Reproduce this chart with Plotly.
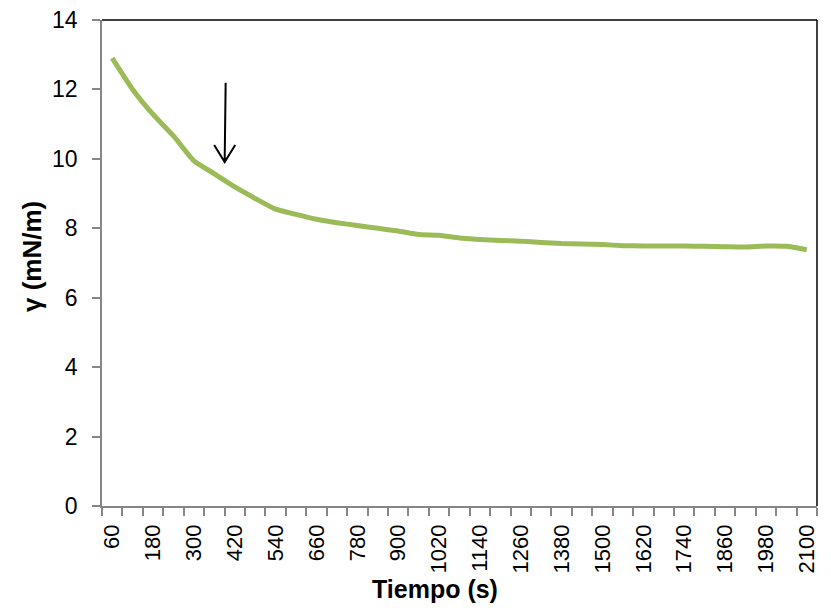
import plotly.graph_objects as go

tiempo = [60, 120, 180, 240, 300, 360, 420, 480, 540, 600, 660, 720, 780, 840, 900,
          960, 1020, 1080, 1140, 1200, 1260, 1320, 1380, 1440, 1500, 1560, 1620, 1680,
          1740, 1800, 1860, 1920, 1980, 2040, 2100]
gamma = [12.90, 12.00, 11.28, 10.66, 9.94, 9.57, 9.19, 8.86, 8.55, 8.40, 8.26, 8.16,
         8.08, 8.00, 7.92, 7.82, 7.80, 7.72, 7.68, 7.65, 7.63, 7.59, 7.56, 7.55, 7.53,
         7.50, 7.49, 7.49, 7.49, 7.48, 7.47, 7.46, 7.49, 7.48, 7.38]
tick_labels = [60, 180, 300, 420, 540, 660, 780, 900, 1020, 1140, 1260, 1380, 1500,
               1620, 1740, 1860, 1980, 2100]
y_ticks = [0, 2, 4, 6, 8, 10, 12, 14]

FONT = "Liberation Sans, Arial, sans-serif"
AXIS_GREY = "#868686"

fig = go.Figure()
fig.add_trace(go.Scatter(
    x=tiempo, y=gamma, mode="lines",
    line=dict(color="#9BBB59", width=5, shape="spline", smoothing=0.5),
    hoverinfo="x+y", showlegend=False,
))

fig.update_layout(
    width=831, height=613,
    margin=dict(l=102, r=14, t=20, b=107),
    paper_bgcolor="white", plot_bgcolor="white",
    font=dict(family=FONT, color="black"),
    xaxis=dict(
        range=[30, 2130], tickmode="array", automargin=False,
        tickvals=tick_labels, ticktext=[str(v) for v in tick_labels],
        tickangle=-90, ticks="", showgrid=False, zeroline=False,
        showline=True, linecolor=AXIS_GREY, linewidth=1.5,
        tickfont=dict(size=22, family=FONT), ticklabelstandoff=8,
        minor=dict(tick0=30, dtick=60, ticks="outside", ticklen=8,
                   tickcolor=AXIS_GREY, tickwidth=1.5, showgrid=False),
    ),
    yaxis=dict(
        range=[0, 14], tickmode="array", tickvals=y_ticks, automargin=False,
        ticks="outside", ticklen=8, tickcolor=AXIS_GREY, tickwidth=1.5,
        showgrid=False, zeroline=False,
        showline=True, linecolor=AXIS_GREY, linewidth=1.5,
        tickfont=dict(size=23, family=FONT), ticklabelstandoff=10,
    ),
    shapes=[
        dict(type="line", xref="paper", yref="paper", x0=0, x1=1, y0=1, y1=1,
             line=dict(color="black", width=1.5)),
        dict(type="line", xref="paper", yref="paper", x0=1, x1=1, y0=0, y1=1,
             line=dict(color="black", width=1.5)),
        dict(type="path", xref="x", yref="y",
             path="M 393.2,12.19 L 390.3,9.91 M 359.4,10.40 L 390.3,9.91 L 421.2,10.40",
             line=dict(color="black", width=2)),
    ],
    annotations=[
        dict(text="<b>Tiempo (s)</b>", xref="paper", yref="paper",
             x=(435 - 102) / 715, y=-(589 - 506) / 486, showarrow=False,
             font=dict(size=25, family=FONT), xanchor="center", yanchor="middle"),
        dict(text="<b>γ (mN/m)</b>", xref="paper", yref="paper",
             x=-(102 - 32) / 715, y=(506 - 257) / 486, showarrow=False,
             textangle=-90, font=dict(size=26, family=FONT),
             xanchor="center", yanchor="middle"),
    ],
)

fig.write_html("out.html")
